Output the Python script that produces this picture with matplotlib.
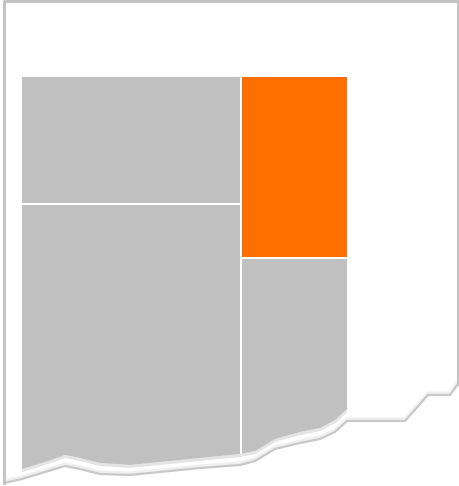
import matplotlib
matplotlib.use("Agg")
import matplotlib.pyplot as plt
from matplotlib.patches import Rectangle, Polygon

# ---- data ----
categories = ["A", "B", "C", "D"]
values = [21.6, 45.8, 14.8, 17.8]       # top-left, bottom-left, top-right (highlight), bottom-right
columns = [[0, 1], [2, 3]]               # treemap grouping into columns
colors = ["#c0c0c0", "#c0c0c0", "#ff6f00", "#c0c0c0"]

W, H = 460, 486
fig = plt.figure(figsize=(W / 100, H / 100), dpi=100)
ax = fig.add_axes([0, 0, 1, 1])
ax.set_xlim(0, W)
ax.set_ylim(H, 0)
ax.axis("off")

px = 0.72  # one pixel in points

# treemap region
X0, Y0, TW, TH = 21, 76, 327, 400
total = sum(values)

# torn edge (decoration): cell clip line and outer frame line
clip_line = [(0, 471), (22, 469), (45, 462), (65, 455), (80, 458), (100, 463), (130, 465),
             (160, 462), (200, 458), (240, 454), (255, 451), (275, 439), (300, 432),
             (320, 428), (335, 420), (347, 409), (360, 398)]
frame_line = [(4, 483), (22, 479), (45, 472), (65, 466), (80, 469), (100, 474), (130, 475),
              (160, 472), (200, 468), (240, 465), (255, 461), (275, 449), (300, 443),
              (320, 439), (335, 432), (347, 421), (405, 421), (428, 395), (450, 395),
              (458, 384)]

clip_poly = Polygon(clip_line + [(360, 0), (0, 0)], closed=True, transform=ax.transData)

# draw treemap
x = X0
for col in columns:
    col_sum = sum(values[i] for i in col)
    cw = TW * col_sum / total
    y = Y0
    for i in col:
        ch = TH * values[i] / col_sum
        r = Rectangle((x, y), cw, ch, facecolor=colors[i], edgecolor="white",
                      linewidth=2 * px, zorder=2)
        ax.add_patch(r)
        r.set_clip_path(clip_poly)
        y += ch
    x += cw

# soft shadow along torn edge of cells (only under the cells)
cells_clip = Rectangle((22, 0), 325, H, transform=ax.transData)
cx, cy = zip(*clip_line)
sh, = ax.plot(cx, [v + 1.5 for v in cy], color="#e4e4e4", lw=3 * px, zorder=1.5,
              solid_capstyle="butt")
sh.set_clip_path(cells_clip)

# outer frame with torn bottom
fx, fy = zip(*frame_line)
ax.plot(fx, [v - 2 for v in fy], color="#efefef", lw=3 * px, zorder=3, solid_joinstyle="round")
frame = [(4, 483), (4, 1.5), (458, 1.5), (458, 384)]
ax.plot([p[0] for p in frame], [p[1] for p in frame], color="#c4c4c4", lw=3 * px, zorder=4)
ax.plot(fx, fy, color="#c8c8c8", lw=2.2 * px, zorder=4, solid_joinstyle="round")

fig.savefig("out.png", dpi=100)
